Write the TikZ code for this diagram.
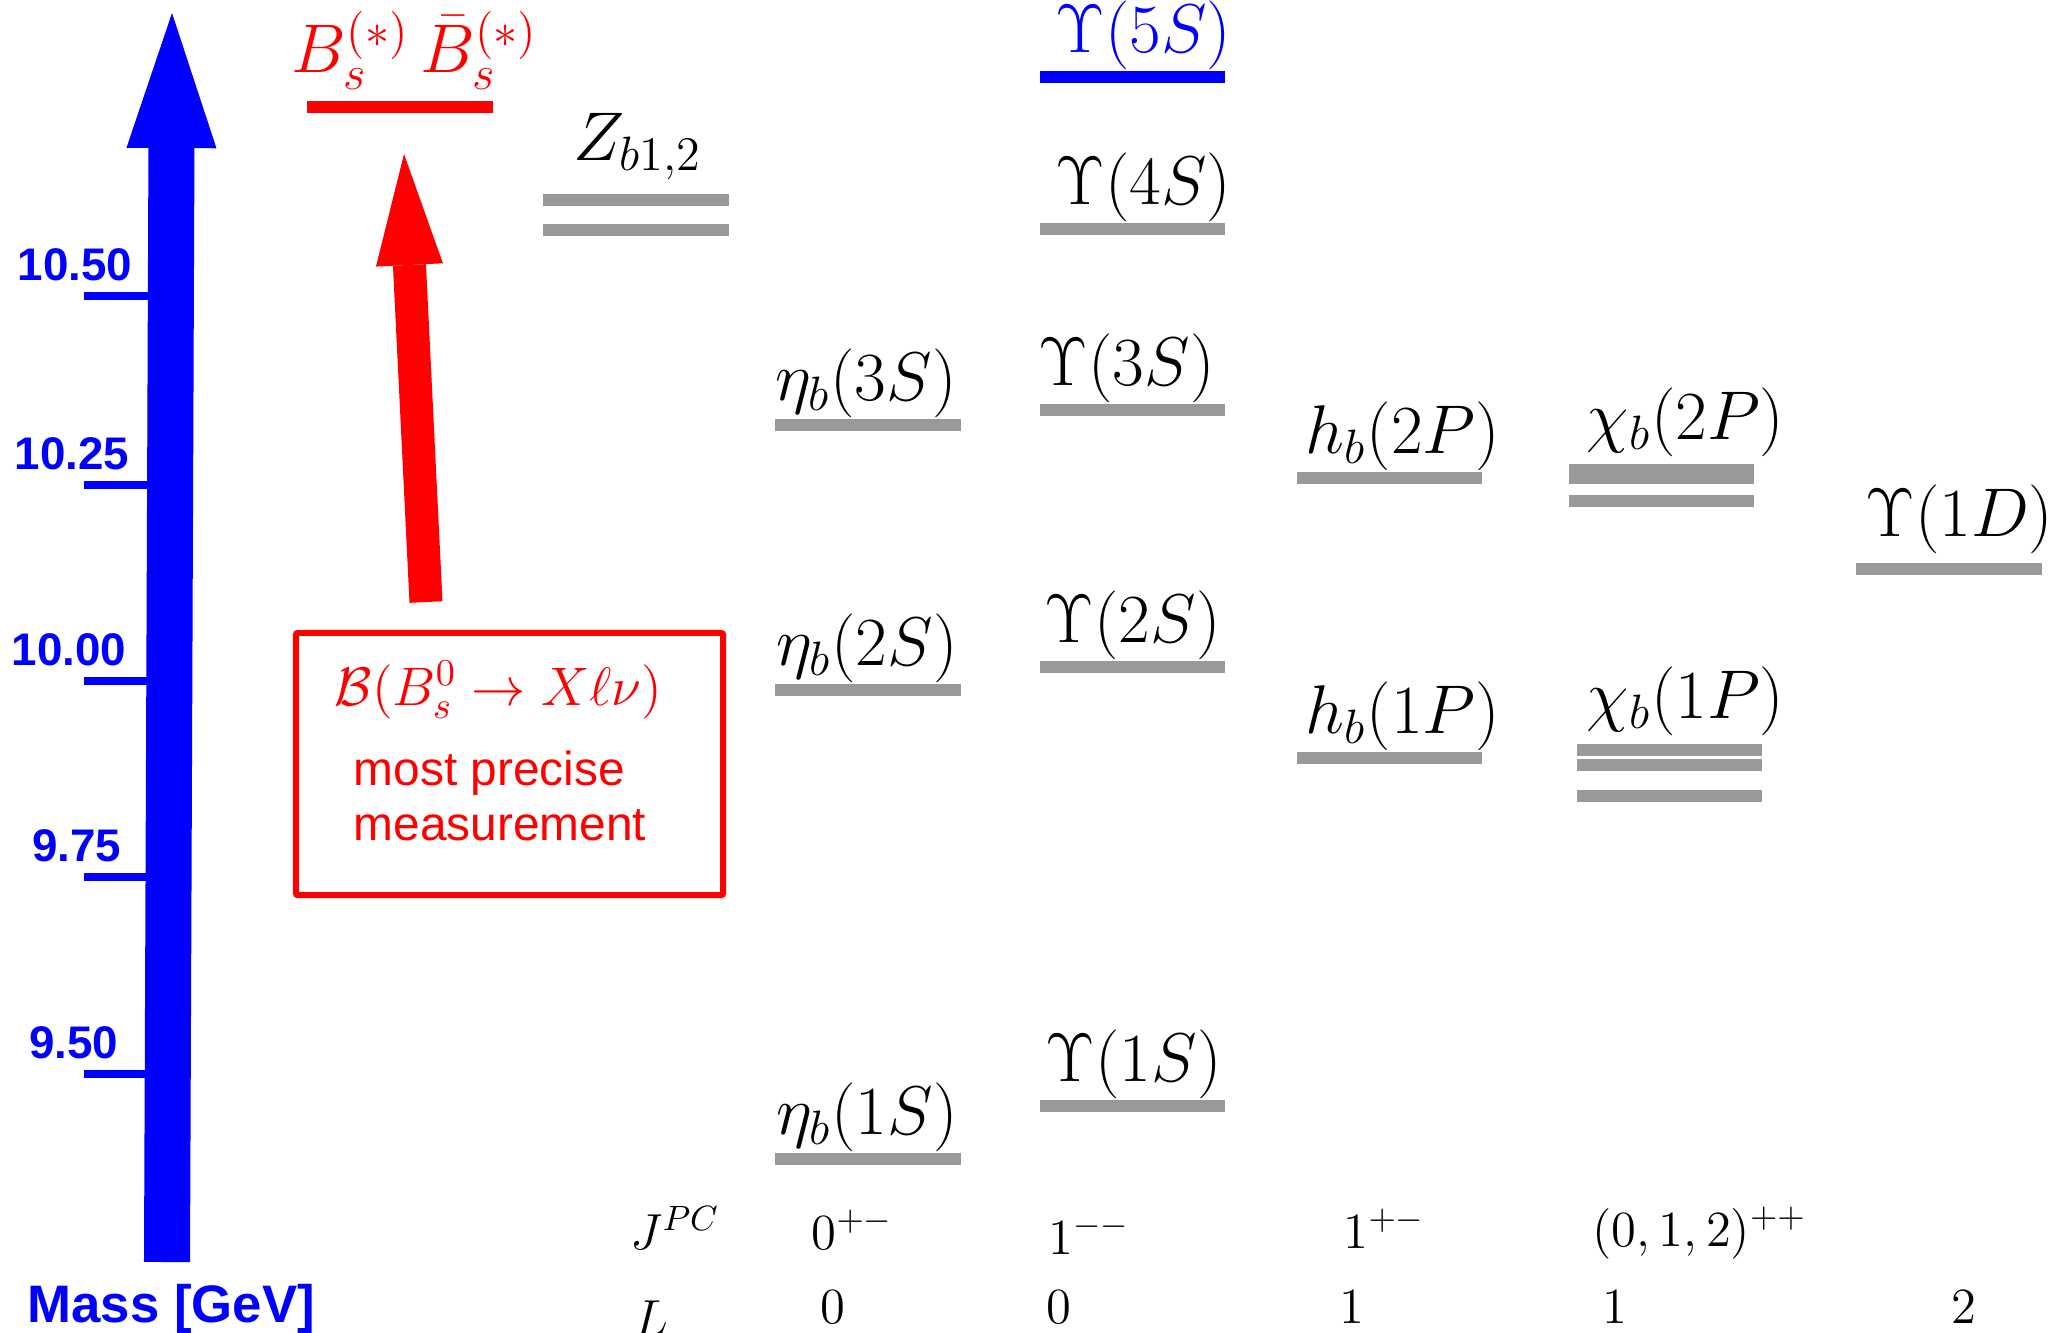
\documentclass[tikz,border=0pt]{standalone}
\usepackage{fix-cm}
\usepackage{xcolor}
\usepackage{fontspec}
\setsansfont{Liberation Sans}
\usetikzlibrary{arrows.meta, calc}

\begin{document}
\begin{tikzpicture}[x=0.01cm, y=-0.01cm,
  lvl/.style={fill=black!40, minimum width=1.85cm, minimum height=0.12cm, inner sep=0pt},
  lab/.style={inner sep=0pt, font=\fontsize{19.6}{23}\selectfont},
  masstick/.style={line width=0.08cm, draw=blue},
  ticklab/.style={inner sep=0pt, anchor=south east, text=blue, font=\sffamily\bfseries\fontsize{13}{15}\selectfont},
  qn/.style={inner sep=0pt, anchor=base west, font=\fontsize{14.4}{17}\selectfont}]
  \useasboundingbox (0,0) rectangle (2050,1332);

  % mass axis
  \coordinate (axisbot) at (167,1262);
  \coordinate (axistop) at (172,13);
  \draw[blue, line width=0.46cm, -{Triangle[length=1.35cm 0 0, width=0.9cm 0 0, line width=0pt 0 0]}] (axisbot) -- (axistop);
  \foreach \m/\y/\xr [count=\i] in {10.50/296/133, 10.25/485/130, 10.00/681/127, 9.75/877/122, 9.50/1074/119} {
    \draw[masstick] (84,\y) -- (150,\y);
    \node[ticklab] (mlab\i) at (\xr,\y-14) {\m};
  }
  \node[anchor=base west, inner sep=0pt, text=blue, font=\sffamily\bfseries\fontsize{15}{18}\selectfont] (masslab) at (27,1322) {Mass [GeV]};

  % Bs Bs threshold and box
  \node[lvl, fill=red] (bsbar) at (400,107) {};
  \node[lab, anchor=base, text=red] (bsbs) at (415,72) {$B_s^{(*)}\,\bar{B}_s^{(*)}$};
  \node[draw=red, line width=0.06cm, rounded corners=0.02cm, minimum width=4.27cm, minimum height=2.62cm, inner sep=0pt] (bsbox) at (509.5,764) {};
  \node[anchor=base west, inner sep=0pt, text=red, font=\fontsize{15.45}{18}\selectfont] (bsmath) at (334,705) {$\mathcal{B}(B_s^0\to X\ell\nu)$};
  \node[anchor=base west, inner sep=0pt, text=red, font=\sffamily\fontsize{13.6}{16}\selectfont] (prec1) at (353,785) {most precise};
  \node[anchor=base west, inner sep=0pt, text=red, font=\sffamily\fontsize{13.6}{16}\selectfont] (prec2) at (353,840) {measurement};
  \coordinate (redbot) at (426,602);
  \coordinate (redtip) at (404,154);
  \draw[red, line width=0.33cm, -{Triangle[length=1.11cm 0 0, width=0.67cm 0 0, line width=0pt 0 0]}] (redbot) -- (redtip);

  % Zb states
  \node[lvl] (zb1) at (636,200) {};
  \node[lvl] (zb2) at (636,230) {};
  \node[lab, anchor=base west] (zb) at (573,160) {$Z_{b1,2}$};

  % eta_b states
  \node[lvl] (etab3Sbar) at (868,425) {};
  \node[lab, anchor=south west] (etab3S) at (etab3Sbar.north west) {$\eta_b(3S)$};
  \node[lvl] (etab2Sbar) at (868,690) {};
  \node[lab, anchor=south west] (etab2S) at ($(etab2Sbar.north west)+(1,0)$) {$\eta_b(2S)$};
  \node[lvl] (etab1Sbar) at (868,1159) {};
  \node[lab, anchor=south west] (etab1S) at ($(etab1Sbar.north west)+(1,0)$) {$\eta_b(1S)$};

  % Upsilon states
  \node[lvl, fill=blue] (ups5Sbar) at (1132.5,77) {};
  \node[lab, anchor=south east, text=blue] (ups5S) at ($(ups5Sbar.north east)+(6,0)$) {$\Upsilon(5S)$};
  \node[lvl] (ups4Sbar) at (1132.5,229) {};
  \node[lab, anchor=south east] (ups4S) at ($(ups4Sbar.north east)+(6,0)$) {$\Upsilon(4S)$};
  \node[lvl] (ups3Sbar) at (1132.5,410) {};
  \node[lab, anchor=south west] (ups3S) at ($(ups3Sbar.north west)+(-1,0)$) {$\Upsilon(3S)$};
  \node[lvl] (ups2Sbar) at (1132.5,667) {};
  \node[lab, anchor=south west] (ups2S) at ($(ups2Sbar.north west)+(5,0)$) {$\Upsilon(2S)$};
  \node[lvl] (ups1Sbar) at (1132.5,1106) {};
  \node[lab, anchor=south west] (ups1S) at ($(ups1Sbar.north west)+(6,0)$) {$\Upsilon(1S)$};

  % h_b states
  \node[lvl] (hb2Pbar) at (1389.5,478) {};
  \node[lab, anchor=south west] (hb2P) at ($(hb2Pbar.north west)+(9,0)$) {$h_b(2P)$};
  \node[lvl] (hb1Pbar) at (1389.5,758) {};
  \node[lab, anchor=south west] (hb1P) at ($(hb1Pbar.north west)+(9,0)$) {$h_b(1P)$};

  % chi_b states
  \node[lvl] (chib2Pa) at (1661.5,470) {};
  \node[lvl] (chib2Pb) at (1661.5,478) {};
  \node[lvl] (chib2Pc) at (1661.5,501) {};
  \node[lab, anchor=south west] (chib2P) at ($(chib2Pa.north west)+(18,-6)$) {$\chi_b(2P)$};
  \node[lvl] (chib1Pa) at (1669.5,750) {};
  \node[lvl] (chib1Pb) at (1669.5,765) {};
  \node[lvl] (chib1Pc) at (1669.5,796) {};
  \node[lab, anchor=south west] (chib1P) at ($(chib1Pa.north west)+(10,-7)$) {$\chi_b(1P)$};

  % D wave
  \node[lvl] (ups1Dbar) at (1949,569) {};
  \node[lab, anchor=south west] (ups1D) at ($(ups1Dbar.north west)+(9,-8)$) {$\Upsilon(1D)$};

  % quantum numbers
  \node[qn] (jpc) at (630,1249) {$J^{PC}$};
  \node[qn] (jpc0) at (811,1249) {$0^{+-}$};
  \node[qn] (jpc1) at (1048,1254) {$1^{--}$};
  \node[qn] (jpc2) at (1343,1248) {$1^{+-}$};
  \node[qn] (jpc3) at (1592,1246) {$(0,1,2)^{++}$};
  \node[qn] (lrow) at (634,1335) {$L$};
  \node[qn] (l0) at (820,1323) {$0$};
  \node[qn] (l1) at (1046,1323) {$0$};
  \node[qn] (l2) at (1339,1323) {$1$};
  \node[qn] (l3) at (1602,1323) {$1$};
  \node[qn] (l4) at (1951,1323) {$2$};
\end{tikzpicture}
\end{document}
